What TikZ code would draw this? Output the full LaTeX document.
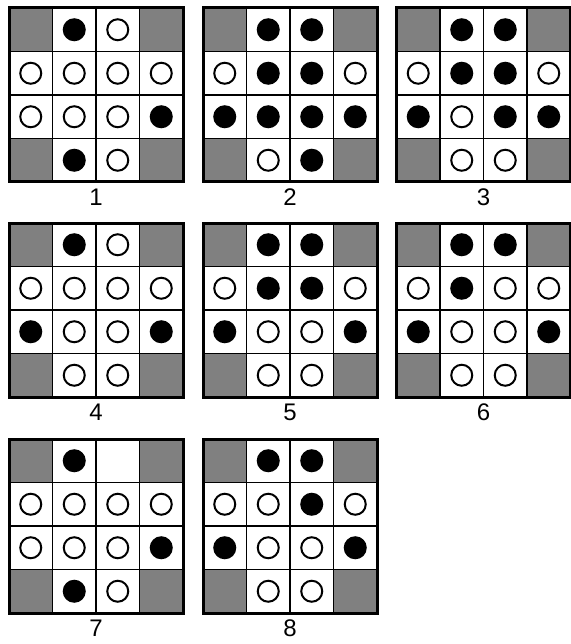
\documentclass[tikz,border=0pt]{standalone}
\usepackage{fontspec}
\setmainfont{Liberation Sans}
\usepackage{tikz}
\definecolor{cornergray}{RGB}{128,128,128}
\tikzset{
  sq/.style={draw, line width=1.5pt, minimum size=43.5pt, inner sep=0pt, outer sep=0pt, fill=white},
  sqg/.style={sq, fill=cornergray},
  sqb/.style={sq}, sqw/.style={sq}, sqe/.style={sq},
  dotb/.style={circle, draw, line width=2pt, fill=black, minimum size=21pt, inner sep=0pt},
  dotw/.style={dotb, fill=white},
  frame/.style={draw, line width=3pt},
  num/.style={font=\fontsize{24}{28}\selectfont, inner sep=0pt}
}

\begin{document}
\begin{tikzpicture}[x=1pt, y=-1pt]
  \useasboundingbox (0,0) rectangle (570,644);
  % boards: left/top/number/cells (row by row)
  \foreach \gx/\gy/\lab/\cells in {
    9/8/1/{g,b,w,g,w,w,w,w,w,w,w,b,g,b,w,g},
    203/8/2/{g,b,b,g,w,b,b,w,b,b,b,b,g,w,b,g},
    396.5/8/3/{g,b,b,g,w,b,b,w,b,w,b,b,g,w,w,g},
    9/223/4/{g,b,w,g,w,w,w,w,b,w,w,b,g,w,w,g},
    203/223/5/{g,b,b,g,w,b,b,w,b,w,w,b,g,w,w,g},
    396.5/223/6/{g,b,b,g,w,b,w,w,b,w,w,b,g,w,w,g},
    9/439/7/{g,b,e,g,w,w,w,w,w,w,w,b,g,b,w,g},
    203/439/8/{g,b,b,g,w,w,b,w,b,w,w,b,g,w,w,g}} {
    \foreach \c [count=\i from 0] in \cells {
      \pgfmathtruncatemacro{\col}{mod(\i,4)}
      \pgfmathtruncatemacro{\row}{div(\i,4)}
      \node[sq\c] (g\lab-\i) at (\gx+43.5*\col+21.75, \gy+43.5*\row+21.75) {};
      \if g\c\else\if e\c\else
        \node[dot\c] (d\lab-\i) at (g\lab-\i) {};
      \fi\fi
    }
    \draw[frame] (\gx,\gy) rectangle ++(174,174);
    \node[num] (l\lab) at (\gx+87, \gy+189) {\lab};
  }
\end{tikzpicture}
\end{document}
